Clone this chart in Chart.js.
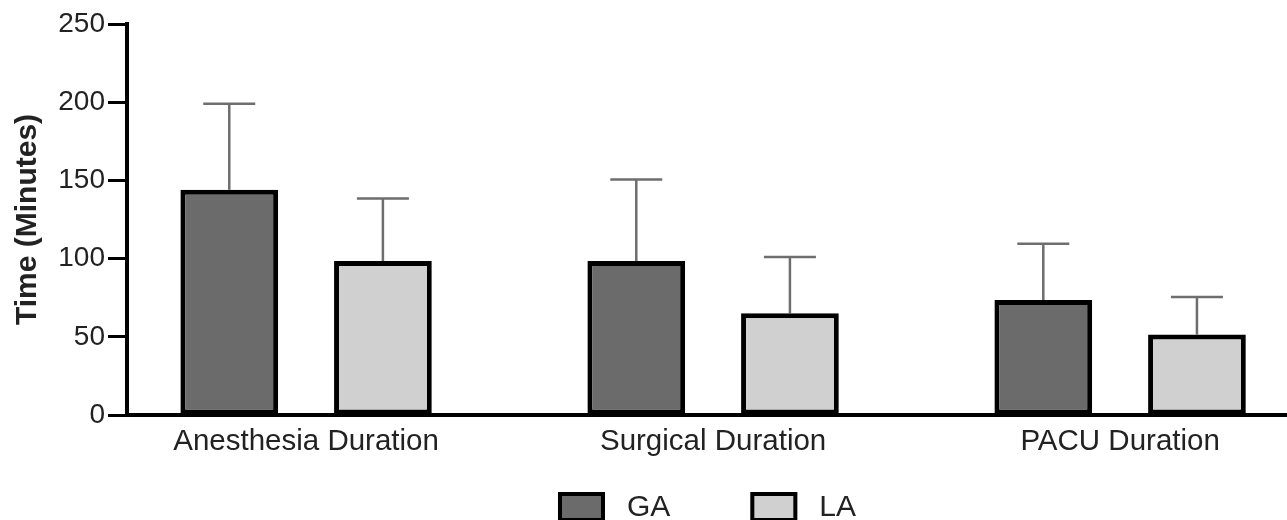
<!DOCTYPE html>
<html>
<head>
<meta charset="utf-8">
<script src="https://cdn.jsdelivr.net/npm/chart.js@4"></script>
<style>
  html, body { margin: 0; padding: 0; background: #fff; }
  #wrap { width: 1287px; height: 520px; }
</style>
</head>
<body>
<div id="wrap"><canvas id="chart" width="1287" height="520"></canvas></div>
<script>
const categories = ['Anesthesia Duration', 'Surgical Duration', 'PACU Duration'];
const gaMean = [144, 98.5, 73.5];
const gaSD = [55, 52, 36];
const laMean = [98.5, 65, 51.5];
const laSD = [40, 36, 24];
const yTicks = [0, 50, 100, 150, 200, 250];

const FONT = "'Liberation Sans', Arial, Helvetica, sans-serif";

// error bars (upper only), drawn from bar top through the y scale
const errorBars = {
    id: 'errorBars',
    beforeDatasetsDraw(chart) {
        const ctx = chart.ctx;
        const yScale = chart.scales.y;
        chart.data.datasets.forEach((ds, di) => {
            const meta = chart.getDatasetMeta(di);
            meta.data.forEach((bar, i) => {
                const top = yScale.getPixelForValue(ds.data[i].y + ds.sd[i]);
                const base = yScale.getPixelForValue(ds.data[i].y);
                ctx.save();
                ctx.strokeStyle = '#6e6e6e';
                ctx.lineWidth = 2.5;
                ctx.beginPath();
                ctx.moveTo(bar.x, base);
                ctx.lineTo(bar.x, top);
                ctx.moveTo(bar.x - 26, top);
                ctx.lineTo(bar.x + 26, top);
                ctx.stroke();
                ctx.restore();
            });
        });
    }
};

// legend under the axis, centred on the plot area
const bottomLegend = {
    id: 'bottomLegend',
    afterDraw(chart) {
        const ctx = chart.ctx;
        const area = chart.chartArea;
        ctx.save();
        ctx.font = '30px ' + FONT;
        const boxW = 47, boxH = 30, gap = 22, between = 80;
        const items = chart.data.datasets.map(ds => ({
            ds, w: boxW + gap + ctx.measureText(ds.label).width
        }));
        const total = items.reduce((s, it) => s + it.w, 0) + between * (items.length - 1);
        let x = (area.left + area.right) / 2 - total / 2;
        const top = 492;
        items.forEach(it => {
            ctx.fillStyle = it.ds.backgroundColor;
            ctx.fillRect(x, top, boxW, boxH);
            ctx.strokeStyle = '#000';
            ctx.lineWidth = 4;
            ctx.strokeRect(x + 2, top + 2, boxW - 4, boxH - 4);
            ctx.fillStyle = '#222';
            ctx.textBaseline = 'middle';
            ctx.fillText(it.ds.label, x + boxW + gap, top + boxH / 2 + 1);
            x += it.w + between;
        });
        ctx.restore();
    }
};

const ctx = document.getElementById('chart');
new Chart(ctx, {
    type: 'bar',
    data: {
        datasets: [{
            label: 'GA',
            data: gaMean.map((v, i) => ({ x: i, y: v })),
            sd: gaSD,
            backgroundColor: '#6b6b6b',
            borderColor: '#000',
            borderWidth: 5,
            borderSkipped: false
        }, {
            label: 'LA',
            data: laMean.map((v, i) => ({ x: i, y: v })),
            sd: laSD,
            backgroundColor: '#d0d0d0',
            borderColor: '#000',
            borderWidth: 5,
            borderSkipped: false
        }]
    },
    options: {
        responsive: false,
        animation: false,
        categoryPercentage: 0.755,
        barPercentage: 0.636,
        layout: { padding: { top: 24, left: 0, right: 0, bottom: 0 } },
        plugins: {
            legend: { display: false },
            tooltip: { enabled: false }
        },
        scales: {
            x: {
                type: 'linear',
                min: -0.44,
                max: 2.41,
                offset: false,
                grid: { display: false, offset: false, drawTicks: false },
                border: { display: true, color: '#000', width: 4 },
                ticks: {
                    stepSize: 1,
                    padding: 9,
                    maxRotation: 0,
                    autoSkip: false,
                    color: '#222',
                    font: { family: FONT, size: 29.5 },
                    callback: v => categories[v]
                },
                afterBuildTicks: scale => {
                    scale.ticks = scale.ticks.filter(t => Number.isInteger(t.value));
                },
                afterFit: scale => { scale.height = 105; }
            },
            y: {
                min: 0,
                max: 250,
                grid: {
                    display: true,
                    drawOnChartArea: false,
                    drawTicks: true,
                    tickLength: 19,
                    tickWidth: 3,
                    tickColor: '#000'
                },
                border: { display: true, color: '#000', width: 4 },
                ticks: {
                    stepSize: 50,
                    padding: 3,
                    color: '#222',
                    font: { family: FONT, size: 28 }
                },
                afterBuildTicks: scale => {
                    scale.ticks = yTicks.map(v => ({ value: v }));
                },
                title: {
                    display: true,
                    text: 'Time (Minutes)',
                    color: '#222',
                    padding: { top: 10, bottom: 0 },
                    font: { family: FONT, size: 30, weight: 'bold', lineHeight: 1.2 }
                },
                afterFit: scale => { scale.width = 127; }
            }
        }
    },
    plugins: [errorBars, bottomLegend]
});
</script>
</body>
</html>
